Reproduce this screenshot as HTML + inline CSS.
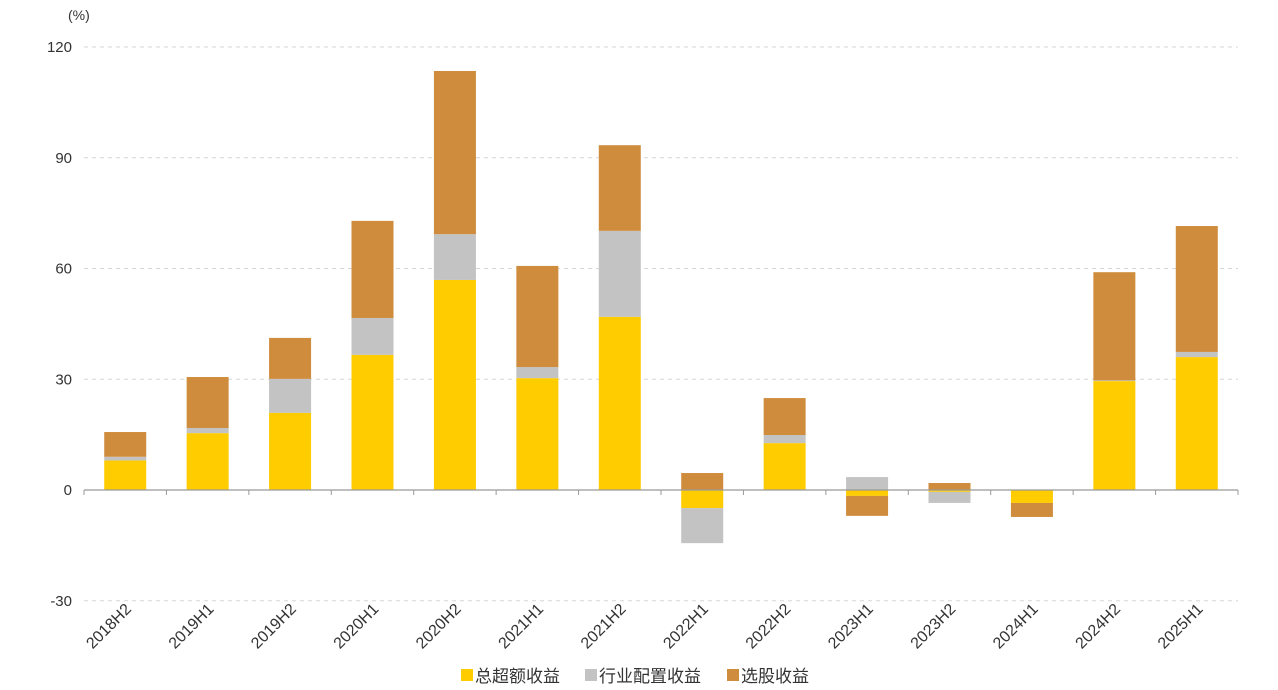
<!DOCTYPE html>
<html><head><meta charset="utf-8">
<style>
html,body{margin:0;padding:0;background:#fff;}
svg{display:block;font-family:"Liberation Sans","Noto Sans CJK SC",sans-serif;}
</style></head>
<body>
<svg id="chart" width="1278" height="690" viewBox="0 0 1278 690"></svg>
<script>
const categories=["2018H2","2019H1","2019H2","2020H1","2020H2","2021H1","2021H2","2022H1","2022H2","2023H1","2023H2","2024H1","2024H2","2025H1"];
const totalExcess=[8,15.4,20.9,36.6,56.9,30.3,46.9,-4.9,12.7,-1.6,-0.5,-3.5,29.5,36];
const industryAlloc=[1,1.4,9.2,10,12.4,3,23.3,-9.5,2.2,3.5,-3,0,0.2,1.4];
const stockPick=[6.7,13.8,11.1,26.3,44.2,27.4,23.2,4.6,10,-5.4,1.9,-3.8,29.3,34.1];
const yTicks=[-30,0,30,60,90,120];
const seriesNames=["总超额收益","行业配置收益","选股收益"];
const colors=["#FFCC00","#C3C3C3","#CF8C3C"];
const NS="http://www.w3.org/2000/svg";
const svg=document.getElementById('chart');
const x0=84,x1=1238,yZero=490,pxPerUnit=443/120;
const step=(x1-x0)/categories.length,barW=42;
function y(v){return yZero-v*pxPerUnit;}
function xc(i){return x0+step*(i+0.5);}
function mk(tag,attrs){const e=document.createElementNS(NS,tag);for(const k in attrs)e.setAttribute(k,attrs[k]);svg.appendChild(e);return e;}
yTicks.forEach(t=>{
  if(t!==0){const g=mk('line',{x1:x0,x2:x1,y1:y(t),y2:y(t),stroke:'#d6d6d6','stroke-dasharray':'4,4','stroke-width':1});
  
  }
  const l=mk('text',{x:72,y:y(t)+5,'text-anchor':'end','font-size':15,fill:'#333'});
  l.textContent=t;
  
  
});
const unit=mk('text',{x:68,y:20,'font-size':14,fill:'#333'});
unit.textContent='(%)';


const series=[totalExcess,industryAlloc,stockPick];
categories.forEach((c,i)=>{
  let pos=0,neg=0;
  series.forEach((s,k)=>{
    const v=s[i];let top,bot;
    if(v>=0){bot=pos;pos+=v;top=pos;}else{top=neg;neg+=v;bot=neg;}
    const r=mk('rect',{x:xc(i)-barW/2,y:y(top),width:barW,height:Math.max(0,y(bot)-y(top)),fill:colors[k]});
    
    
  });
  const lx=xc(i)+7;
  const tl=mk('text',{x:lx,y:610,'text-anchor':'end','font-size':16,fill:'#333',transform:`rotate(-45 ${lx} 610)`});
  tl.textContent=c;
  
  
});
const ax=mk('line',{x1:x0,x2:x1,y1:yZero,y2:yZero,stroke:'#999','stroke-width':1.2});


for(let i=0;i<=categories.length;i++){
  const tk=mk('line',{x1:x0+step*i,x2:x0+step*i,y1:yZero,y2:yZero+5,stroke:'#999'});
  
  
}
const lx=[461,585,727];
seriesNames.forEach((n,k)=>{
  const s=mk('rect',{x:lx[k],y:669,width:12,height:12,fill:colors[k]});
  
  
  const t=mk('text',{x:lx[k]+14,y:682,'font-size':17,fill:'#333'});
  t.textContent=n;
  
  
});
</script>
</body></html>
